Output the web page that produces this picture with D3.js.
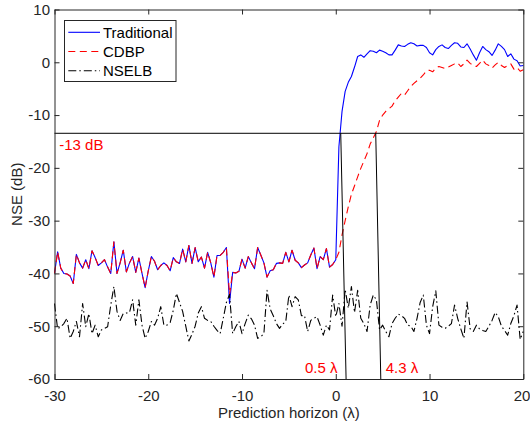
<!DOCTYPE html>
<html><head><meta charset="utf-8">
<script src="https://cdn.jsdelivr.net/npm/d3@7"></script>
<style>
body{margin:0;background:#fff;}
svg{display:block;font-family:"Liberation Sans",Arial,Helvetica,sans-serif;}
</style></head>
<body><svg id="c" width="530" height="428"></svg>
<script>
// x sampling: prediction horizon from -30 to 20 in steps of 1/3 lambda
const horizon = d3.range(151).map(i => -30 + i / 3);

const traditional = [
-40.0,-35.9,-39.0,-40.0,-40.1,-40.5,-41.9,-36.4,-38.0,-39.0,
-37.4,-39.1,-35.7,-37.0,-38.5,-38.0,-37.4,-38.8,-40.0,-34.0,
-40.0,-38.0,-35.6,-39.7,-38.0,-36.8,-39.8,-37.1,-40.0,-42.7,
-39.5,-36.8,-37.7,-39.3,-38.5,-38.0,-38.5,-39.5,-37.0,-37.8,
-38.1,-35.4,-37.8,-34.7,-38.1,-35.1,-37.8,-36.9,-39.0,-36.0,
-38.0,-40.7,-36.6,-36.6,-36.0,-35.1,-45.7,-39.8,-39.9,-39.6,
-37.3,-39.0,-36.8,-38.0,-39.1,-35.1,-36.5,-38.0,-40.7,-39.5,
-39.3,-38.1,-38.0,-38.1,-36.0,-37.8,-35.6,-37.5,-38.0,-38.9,
-38.4,-38.0,-36.5,-35.2,-39.1,-36.8,-37.4,-35.3,-38.8,-38.3,
-37.4,-16.0,-9.3,-5.5,-3.8,-2.7,-0.9,1.1,1.4,0.95,
1.6,2.2,2.1,1.8,2.3,2.1,1.8,1.4,1.4,2.3,
3.3,3.1,3.0,3.4,3.7,3.5,3.1,3.2,3.2,2.8,
1.8,1.4,2.4,3.0,3.3,2.8,2.6,3.2,3.7,3.6,
2.9,2.8,3.5,2.5,1.4,0.4,1.8,3.0,2.4,2.0,
1.3,2.3,3.5,3.0,2.4,1.1,1.6,0.6,0.3,-0.7,-0.6
];

const cdbp = [
-40.0,-35.9,-39.0,-40.0,-40.1,-40.5,-41.9,-36.4,-38.0,-39.0,
-37.4,-39.1,-35.7,-37.0,-38.5,-38.0,-37.4,-38.8,-40.0,-34.0,
-40.0,-38.0,-35.6,-39.7,-38.0,-36.8,-39.8,-37.1,-40.0,-42.7,
-39.5,-36.8,-37.7,-39.3,-38.5,-38.0,-38.5,-39.5,-37.0,-37.8,
-38.1,-35.4,-37.8,-34.7,-38.1,-35.1,-37.8,-36.9,-39.0,-36.0,
-38.0,-40.7,-36.6,-36.6,-36.0,-35.1,-44.0,-39.8,-39.9,-39.6,
-37.3,-39.0,-36.8,-38.0,-39.1,-35.1,-36.5,-38.0,-40.7,-39.5,
-39.3,-38.1,-38.0,-38.1,-36.0,-37.8,-35.6,-37.5,-38.0,-38.9,
-38.4,-38.0,-36.5,-35.2,-39.1,-36.8,-37.4,-35.3,-38.8,-38.3,
-37.4,-36.0,-32.7,-30.0,-27.4,-25.0,-23.4,-21.7,-20.1,-18.7,
-17.3,-15.5,-14.3,-13.1,-11.0,-10.0,-9.3,-8.8,-8.3,-7.3,
-6.6,-5.9,-6.2,-5.4,-4.6,-4.0,-3.5,-3.0,-2.4,-1.6,
-1.5,-1.8,-1.1,-0.8,-1.0,-1.2,-0.9,-0.6,-0.3,-0.1,
-0.8,-0.3,0.4,-0.2,-0.6,-0.8,-0.2,0.4,-0.3,-0.6,
-1.1,-0.5,0.0,-0.6,-1.0,-0.6,-0.3,-1.3,-1.0,-1.7,-1.4
];

const nselb = [
-45.7,-50.5,-50.1,-49.5,-48.5,-52.3,-51.0,-49.1,-52.0,-45.7,
-50.1,-47.6,-51.4,-49.8,-52.0,-50.7,-50.4,-50.1,-46.0,-42.5,
-47.2,-48.9,-47.6,-47.5,-47.4,-45.0,-49.8,-45.0,-49.8,-52.3,
-51.0,-49.1,-49.8,-48.5,-46.3,-49.8,-49.8,-49.3,-47.0,-43.8,
-45.5,-47.2,-50.0,-52.8,-51.5,-50.0,-47.5,-46.3,-48.5,-48.9,
-49.1,-50.0,-50.8,-51.4,-48.5,-45.5,-44.0,-51.4,-50.1,-49.1,
-51.4,-49.5,-47.9,-48.6,-49.8,-52.3,-52.0,-51.4,-43.2,-46.7,
-48.0,-49.5,-50.4,-49.6,-49.1,-44.1,-46.3,-44.4,-45.0,-48.0,
-48.0,-51.0,-48.9,-48.5,-48.2,-49.8,-51.7,-49.8,-50.7,-44.1,
-48.2,-45.7,-50.0,-43.0,-46.6,-42.5,-47.4,-43.2,-48.5,-49.5,
-51.0,-46.0,-44.1,-45.0,-50.7,-49.8,-51.0,-52.0,-49.5,-48.5,
-47.7,-48.0,-48.5,-49.8,-50.0,-51.0,-48.5,-45.5,-44.1,-49.8,
-51.4,-46.3,-43.3,-49.8,-50.2,-50.4,-50.0,-49.5,-46.0,-48.5,
-50.5,-52.3,-45.4,-50.5,-51.0,-49.8,-50.5,-50.8,-51.0,-50.0,
-48.9,-47.4,-48.2,-50.0,-50.8,-51.7,-49.5,-48.0,-46.0,-52.5,-51.0
];

const xTicks = [-30,-20,-10,0,10,20];
const yTicks = [-60,-50,-40,-30,-20,-10,0,10];
const seriesNames = ["Traditional","CDBP","NSELB"];
const threshold = -13.45;
const crossTop = [0.53, 4.26];
const crossBottom = [1.1, 4.8];
const crossLabels = ["0.5 λ","4.3 λ"];

const svg = d3.select("#c");
const L = 54.5, R = 523.3, T = 9.5, B = 379;
const x = d3.scaleLinear().domain([-30,20]).range([L,R]);
const y = d3.scaleLinear().domain([-60,10]).range([B,T]);
const axisCol = "#262626";
const fs = 15;
const ff = '"Liberation Sans",Arial,Helvetica,sans-serif';

const plot = svg.append("g");
const line = d3.line().x((d,i)=>x(horizon[i])).y(d=>y(d));

const styles = [
  {data: traditional, color:"#0000ff", dash:null},
  {data: cdbp, color:"#ff0000", dash:"7,4.5"},
  {data: nselb, color:"#000000", dash:"8,3,1.5,3"}
];
styles.forEach(s=>{
  plot.append("path").attr("d", line(s.data)).attr("fill","none")
    .attr("stroke", s.color).attr("stroke-width",1.1)
    .attr("stroke-dasharray", s.dash).attr("stroke-linejoin","round");
});

// threshold line and crossing markers
plot.append("line").attr("x1",x(-30)).attr("x2",x(20))
  .attr("y1",y(threshold)).attr("y2",y(threshold))
  .attr("stroke","#000").attr("stroke-width",1);
crossTop.forEach((t,i)=>{
  plot.append("line").attr("x1",x(t)).attr("y1",y(threshold))
    .attr("x2",x(crossBottom[i])).attr("y2",y(-60))
    .attr("stroke","#000").attr("stroke-width",1);
});

// annotations
svg.append("text").attr("x",x(-29.5)).attr("y",y(-16.6))
  .attr("fill","#ff0000").attr("font-size",fs).text("-13 dB");
svg.append("text").attr("x",x(0.18)).attr("y",y(-58.9)).attr("text-anchor","end")
  .attr("fill","#ff0000").attr("font-size",fs).text(crossLabels[0]);
svg.append("text").attr("x",x(5.32)).attr("y",y(-58.9))
  .attr("fill","#ff0000").attr("font-size",fs).text(crossLabels[1]);

// axes
function styleAxis(g){
  g.selectAll(".domain").attr("stroke",axisCol).attr("stroke-width",1);
  g.selectAll(".tick line").attr("stroke",axisCol).attr("stroke-width",1);
  g.selectAll("text").attr("fill","#262626").attr("font-size",fs).attr("font-family",ff);
}
const fmt = d => d < 0 ? "-" + Math.abs(d) : String(d);
const xAxisG = svg.append("g").attr("transform",`translate(0,${B})`)
  .call(d3.axisBottom(x).tickValues(xTicks).tickSize(-5).tickSizeOuter(0).tickPadding(11).tickFormat(fmt))
  .call(styleAxis);
// keep the last label inside the canvas
xAxisG.selectAll(".tick text").filter(d => d === 20).attr("dx", -1.8);
svg.append("g").attr("transform",`translate(0,${T})`)
  .call(d3.axisTop(x).tickValues(xTicks).tickSize(-5).tickSizeOuter(0).tickFormat(""))
  .call(styleAxis);
svg.append("g").attr("transform",`translate(${L},0)`)
  .call(d3.axisLeft(y).tickValues(yTicks).tickSize(-5).tickSizeOuter(0).tickPadding(4.5).tickFormat(fmt))
  .call(styleAxis);
svg.append("g").attr("transform",`translate(${R},0)`)
  .call(d3.axisRight(y).tickValues(yTicks).tickSize(-5).tickSizeOuter(0).tickFormat(""))
  .call(styleAxis);

// axis labels
svg.append("text").attr("x",(L+R)/2).attr("y",418).attr("text-anchor","middle")
  .attr("font-size",fs).attr("fill","#262626").text("Prediction horizon (λ)");
svg.append("text").attr("transform",`translate(22,${(T+B)/2}) rotate(-90)`)
  .attr("text-anchor","middle").attr("font-size",fs).attr("fill","#262626").text("NSE (dB)");

// legend
const lg = svg.append("g");
lg.append("rect").attr("x",64.5).attr("y",20.5).attr("width",111.5).attr("height",61)
  .attr("fill","#fff").attr("stroke",axisCol).attr("stroke-width",1);
seriesNames.forEach((n,i)=>{
  const yy = 32.3 + i*19.2;
  lg.append("line").attr("x1",68.3).attr("x2",100).attr("y1",yy).attr("y2",yy)
    .attr("stroke",styles[i].color).attr("stroke-width",1.1)
    .attr("stroke-dasharray",styles[i].dash);
  lg.append("text").attr("x",103).attr("y",yy).attr("dy","0.35em")
    .attr("font-size",fs).attr("fill","#000").text(n);
});
</script></body></html>
